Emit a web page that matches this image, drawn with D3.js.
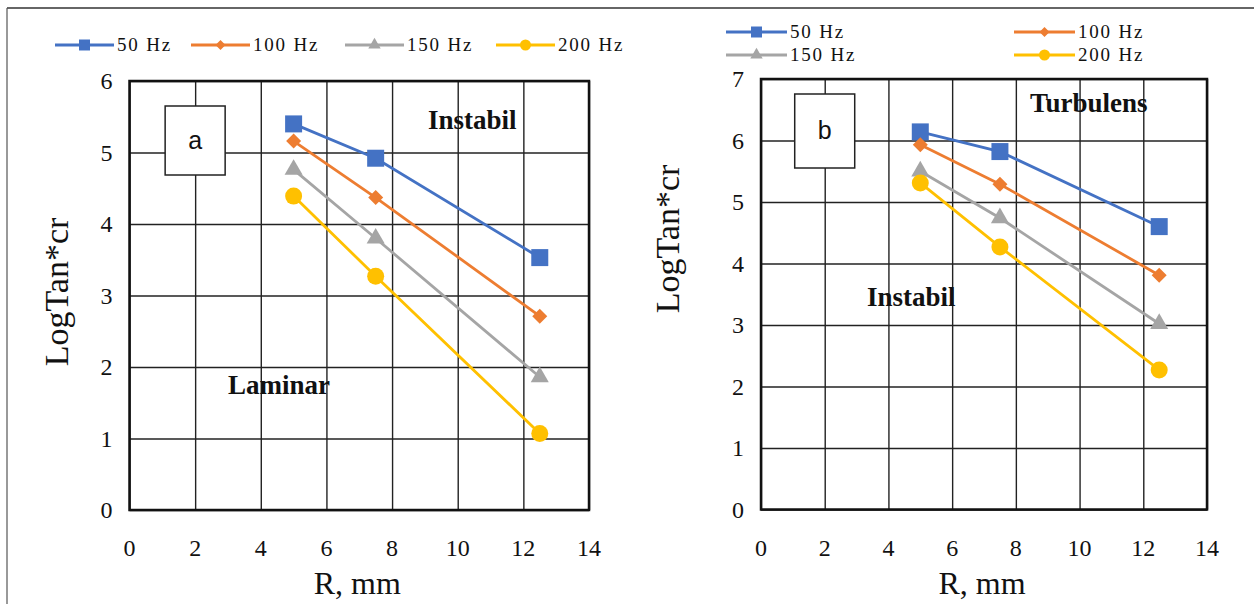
<!DOCTYPE html>
<html>
<head>
<meta charset="utf-8">
<script src="https://cdn.jsdelivr.net/npm/d3@7"></script>
<style>
  body { margin: 0; background: #fff; }
  svg text { font-family: "Liberation Serif", "Times New Roman", serif; fill: #111; }
</style>
</head>
<body>
<div id="chart"></div>
<script>
const width = 1254;
const height = 604;

// data
const seriesNames = ["50 Hz", "100 Hz", "150 Hz", "200 Hz"];
const seriesColors = ["#4472C4", "#ED7D31", "#A5A5A5", "#FFC000"];
const seriesMarkers = ["square", "diamond", "triangle", "circle"];
const rValues = [5, 7.5, 12.5];
const xTicks = [0, 2, 4, 6, 8, 10, 12, 14];

const panelA_50 = [5.40, 4.92, 3.53];
const panelA_100 = [5.16, 4.37, 2.71];
const panelA_150 = [4.76, 3.80, 1.86];
const panelA_200 = [4.39, 3.27, 1.07];
const panelA_yTicks = [0, 1, 2, 3, 4, 5, 6];

const panelB_50 = [6.14, 5.82, 4.60];
const panelB_100 = [5.93, 5.29, 3.81];
const panelB_150 = [5.50, 4.74, 3.02];
const panelB_200 = [5.31, 4.27, 2.27];
const panelB_yTicks = [0, 1, 2, 3, 4, 5, 6, 7];

const svg = d3.select("#chart")
    .append("svg")
    .attr("width", width)
    .attr("height", height);

// outer frame of the figure
svg.append("line").attr("x1", 7).attr("x2", width).attr("y1", 8).attr("y2", 8)
    .attr("stroke", "#333").attr("stroke-width", 1.5);
svg.append("line").attr("x1", 7).attr("x2", 7).attr("y1", 8).attr("y2", height)
    .attr("stroke", "#555").attr("stroke-width", 1.2);

function markerPath(type, s) {
    if (type === "square") return d3.symbol(d3.symbolSquare, s * s)();
    if (type === "diamond") return `M0,${-s / 2}L${s / 2},0L0,${s / 2}L${-s / 2},0Z`;
    if (type === "triangle") return d3.symbol(d3.symbolTriangle, s * s * 0.55)();
    return d3.symbol(d3.symbolCircle, Math.PI * (s / 2) * (s / 2))();
}
const markerSize = { square: 17, diamond: 15, triangle: 16, circle: 17 };
const legendMarkerSize = { square: 11, diamond: 10, triangle: 11, circle: 11 };

function drawPanel(cfg) {
    const x = d3.scaleLinear().domain([0, 14]).range([cfg.left, cfg.right]);
    const y = d3.scaleLinear().domain([0, cfg.yMax]).range([cfg.bottom, cfg.top]);
    const g = svg.append("g");

    // grid
    g.append("g")
        .attr("transform", `translate(0,${cfg.bottom})`)
        .call(d3.axisBottom(x).tickValues(xTicks).tickSize(-(cfg.bottom - cfg.top)).tickFormat(""))
        .call(a => a.select(".domain").remove())
        .call(a => a.selectAll("line").attr("stroke", "#222").attr("stroke-width", 1.4));
    g.append("g")
        .attr("transform", `translate(${cfg.left},0)`)
        .call(d3.axisLeft(y).tickValues(cfg.yTicks).tickSize(-(cfg.right - cfg.left)).tickFormat(""))
        .call(a => a.select(".domain").remove())
        .call(a => a.selectAll("line").attr("stroke", "#222").attr("stroke-width", 1.4));

    // plot frame
    g.append("rect")
        .attr("x", cfg.left).attr("y", cfg.top)
        .attr("width", cfg.right - cfg.left).attr("height", cfg.bottom - cfg.top)
        .attr("fill", "none").attr("stroke", "#111").attr("stroke-width", 2.5);

    // tick labels
    g.selectAll(".xlab").data(xTicks).enter().append("text")
        .attr("x", d => x(d)).attr("y", cfg.bottom + 46)
        .attr("text-anchor", "middle").attr("font-size", 24)
        .text(d => d);
    g.selectAll(".ylab").data(cfg.yTicks).enter().append("text")
        .attr("x", cfg.left - 17).attr("y", d => y(d) + 8)
        .attr("text-anchor", "end").attr("font-size", 24)
        .text(d => d);

    // axis titles
    g.append("text")
        .attr("x", (cfg.left + cfg.right) / 2 - 2).attr("y", cfg.bottom + 84)
        .attr("text-anchor", "middle").attr("font-size", 32)
        .text("R, mm");
    g.append("text")
        .attr("transform", `translate(${cfg.yTitleX},${cfg.yTitleY}) rotate(-90)`)
        .attr("text-anchor", "middle").attr("font-size", 34)
        .text("LogTan*cr");

    // panel letter box
    const bx = x(2);
    g.append("rect")
        .attr("x", bx - 30).attr("y", cfg.boxTop)
        .attr("width", 60).attr("height", cfg.boxHeight)
        .attr("fill", "#fff").attr("stroke", "#222").attr("stroke-width", 1.5);
    g.append("text")
        .attr("x", bx).attr("y", cfg.boxTop + cfg.boxHeight / 2 + 8)
        .attr("text-anchor", "middle").attr("font-size", 25)
        .style("font-family", "'Liberation Sans', Arial, sans-serif")
        .text(cfg.letter);

    // region labels
    cfg.notes.forEach(n => {
        g.append("text")
            .attr("x", n.x).attr("y", n.y)
            .attr("font-size", 27).attr("font-weight", "bold")
            .text(n.text);
    });

    // series
    const line = d3.line().x((d, i) => x(rValues[i])).y(d => y(d));
    cfg.series.forEach((vals, s) => {
        g.append("path")
            .datum(vals)
            .attr("d", line)
            .attr("fill", "none")
            .attr("stroke", seriesColors[s])
            .attr("stroke-width", 2.8);
        g.selectAll(".m" + s).data(vals).enter().append("path")
            .attr("d", markerPath(seriesMarkers[s], markerSize[seriesMarkers[s]]))
            .attr("transform", (d, i) => `translate(${x(rValues[i])},${y(d)})`)
            .attr("fill", seriesColors[s]);
    });

    // legend
    cfg.legend.forEach((p, s) => {
        const lg = g.append("g").attr("transform", `translate(${p[0]},${p[1]})`);
        lg.append("line").attr("x1", 0).attr("x2", cfg.legendLine).attr("y1", 0).attr("y2", 0)
            .attr("stroke", seriesColors[s]).attr("stroke-width", 2.8);
        lg.append("path")
            .attr("d", markerPath(seriesMarkers[s], legendMarkerSize[seriesMarkers[s]]))
            .attr("transform", `translate(${cfg.legendLine / 2},0)`)
            .attr("fill", seriesColors[s]);
        lg.append("text")
            .attr("x", cfg.legendLine + 3).attr("y", 6)
            .attr("font-size", 19).attr("letter-spacing", 1.8)
            .text(seriesNames[s]);
    });
}

drawPanel({
    left: 129.5, right: 589, top: 81, bottom: 510, yMax: 6,
    yTicks: panelA_yTicks,
    series: [panelA_50, panelA_100, panelA_150, panelA_200],
    yTitleX: 68, yTitleY: 292,
    letter: "a", boxTop: 106, boxHeight: 69,
    notes: [{ text: "Instabil", x: 428, y: 129 }, { text: "Laminar", x: 228, y: 394 }],
    legend: [[55, 45], [191, 45], [345, 45], [496, 45]],
    legendLine: 59
});

drawPanel({
    left: 761, right: 1207, top: 79, bottom: 509.5, yMax: 7,
    yTicks: panelB_yTicks,
    series: [panelB_50, panelB_100, panelB_150, panelB_200],
    yTitleX: 679, yTitleY: 239,
    letter: "b", boxTop: 94, boxHeight: 74,
    notes: [{ text: "Turbulens", x: 1030, y: 112 }, { text: "Instabil", x: 867, y: 306 }],
    legend: [[726, 32], [1014, 32], [726, 55], [1014, 55]],
    legendLine: 61
});
</script>
</body>
</html>
